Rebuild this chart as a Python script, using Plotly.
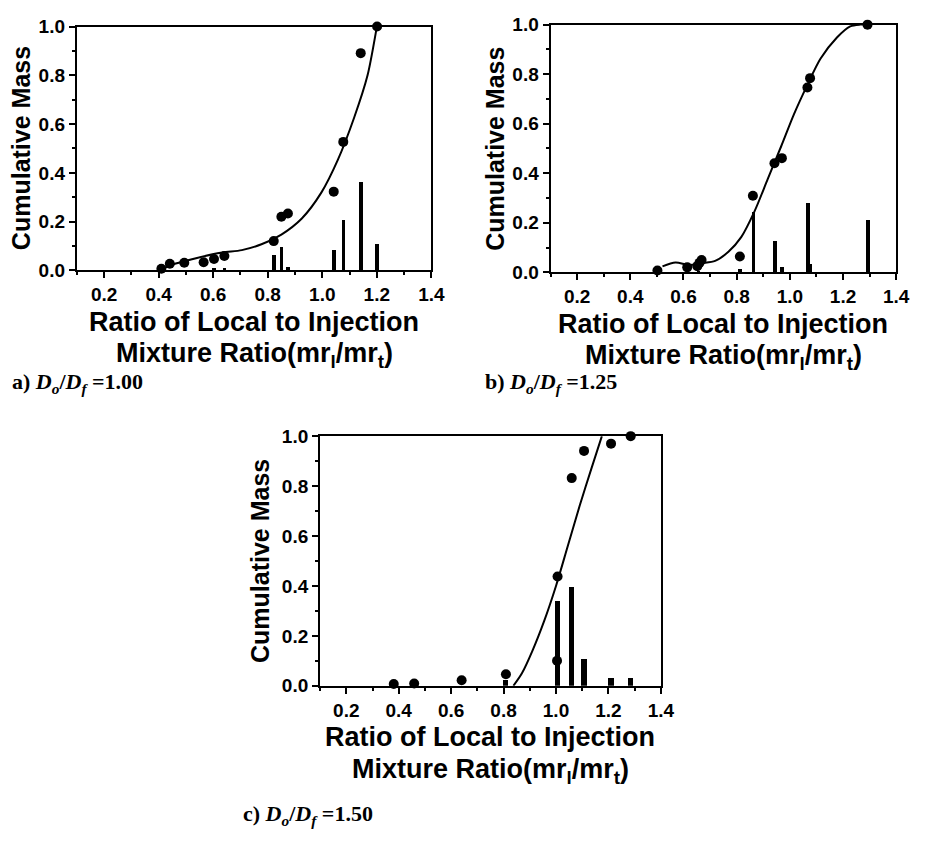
import plotly.graph_objects as go

# ---------------- Panel a: Do/Df = 1.00 ----------------
a_pts_x = [0.41, 0.441, 0.494, 0.565, 0.603, 0.641, 0.822, 0.850, 0.874, 1.042, 1.077, 1.141, 1.201]
a_pts_y = [0.007, 0.027, 0.031, 0.033, 0.047, 0.059, 0.12, 0.22, 0.233, 0.323, 0.527, 0.891, 1.0]
a_bar_x = [0.603, 0.641, 0.822, 0.850, 0.874, 1.042, 1.077, 1.141, 1.201]
a_bar_y = [0.013, 0.012, 0.064, 0.099, 0.017, 0.085, 0.207, 0.364, 0.108]
a_fit_x = [0.407, 0.44, 0.537, 0.633, 0.705, 0.777, 0.85, 0.925, 0.997, 1.057, 1.117, 1.166, 1.196, 1.2]
a_fit_y = [0.0, 0.02, 0.05, 0.073, 0.083, 0.107, 0.147, 0.213, 0.32, 0.453, 0.627, 0.8, 0.973, 1.0]

# ---------------- Panel b: Do/Df = 1.25 ----------------
b_pts_x = [0.502, 0.614, 0.652, 0.66, 0.668, 0.812, 0.861, 0.942, 0.970, 1.066, 1.076, 1.292]
b_pts_y = [0.007, 0.02, 0.025, 0.038, 0.05, 0.064, 0.309, 0.44, 0.461, 0.746, 0.784, 1.0]
b_bar_x = [0.655, 0.812, 0.861, 0.942, 0.970, 1.066, 1.076, 1.292]
b_bar_y = [0.008, 0.016, 0.244, 0.128, 0.021, 0.28, 0.037, 0.214]
b_fit_x = [0.521, 0.57, 0.62, 0.669, 0.719, 0.769, 0.817, 0.867, 0.917, 0.967, 1.016, 1.066, 1.115, 1.177, 1.227, 1.264, 1.292]
b_fit_y = [0.024, 0.04, 0.03, 0.037, 0.046, 0.083, 0.142, 0.246, 0.377, 0.508, 0.64, 0.757, 0.862, 0.948, 0.993, 1.0, 1.0]

# ---------------- Panel c: Do/Df = 1.50 ----------------
c_pts_x = [0.381, 0.459, 0.64, 0.809, 1.004, 1.006, 1.06, 1.107, 1.21, 1.285]
c_pts_y = [0.007, 0.009, 0.022, 0.046, 0.1, 0.4375, 0.832, 0.941, 0.97, 1.0]
c_bar_x = [0.809, 1.006, 1.06, 1.107, 1.21, 1.285]
c_bar_y = [0.022, 0.339, 0.395, 0.108, 0.029, 0.029]
c_fit_x = [0.8375, 0.87, 0.91, 0.955, 1.0, 1.045, 1.09, 1.135, 1.175]
c_fit_y = [0.0, 0.05, 0.14, 0.26, 0.4, 0.56, 0.72, 0.87, 1.0]

x_ticks = [0.2, 0.4, 0.6, 0.8, 1.0, 1.2, 1.4]
x_tick_text = ["0.2", "0.4", "0.6", "0.8", "1.0", "1.2", "1.4"]
y_ticks = [0.0, 0.2, 0.4, 0.6, 0.8, 1.0]
y_tick_text = ["0.0", "0.2", "0.4", "0.6", "0.8", "1.0"]

W, H = 925, 846
SANS = "Liberation Sans, Arial, Helvetica, sans-serif"
SERIF = "Liberation Serif, Times New Roman, serif"

# panel pixel boxes: (left, right, top, bottom)
boxes = {
    "a": (78, 438, 17, 267),
    "b": (559, 910, 15, 269),
    "c": (325, 671, 437, 693),
}

fig = go.Figure()

panels = [
    ("a", "x", "y", a_pts_x, a_pts_y, a_bar_x, a_bar_y, a_fit_x, a_fit_y, 0.014),
    ("b", "x2", "y2", b_pts_x, b_pts_y, b_bar_x, b_bar_y, b_fit_x, b_fit_y, 0.014),
    ("c", "x3", "y3", c_pts_x, c_pts_y, c_bar_x, c_bar_y, c_fit_x, c_fit_y, 0.02),
]

for key, xa, ya, px, py, bx, by, fx, fy, bw in panels:
    fig.add_trace(go.Bar(x=bx, y=by, width=bw, marker=dict(color="black", line=dict(width=0)),
                         xaxis=xa, yaxis=ya, showlegend=False))
    fig.add_trace(go.Scatter(x=fx, y=fy, mode="lines", line=dict(color="black", width=2, shape="spline", smoothing=0.8),
                             xaxis=xa, yaxis=ya, showlegend=False, cliponaxis=True))
    fig.add_trace(go.Scatter(x=px, y=py, mode="markers", marker=dict(color="black", size=10),
                             xaxis=xa, yaxis=ya, showlegend=False, cliponaxis=False))

axis_common = dict(
    showgrid=False, zeroline=False, showline=True, linecolor="black", linewidth=2,
    mirror=True, ticks="outside", ticklen=6, tickwidth=2, tickcolor="black",
    tickfont=dict(family=SANS, size=19, color="black", weight="bold"),
)

layout = dict(
    width=W, height=H, margin=dict(l=0, r=0, t=0, b=0),
    plot_bgcolor="white", paper_bgcolor="white", bargap=0, showlegend=False,
)

for i, key in enumerate(["a", "b", "c"]):
    l, r, t, b = boxes[key]
    sx = "" if i == 0 else str(i + 1)
    layout["xaxis" + sx] = dict(
        axis_common, domain=[l / W, r / W], range=[0.1, 1.4], anchor="y" + sx,
        tickvals=x_ticks, ticktext=x_tick_text,
        minor=dict(tickvals=[0.1, 0.3, 0.5, 0.7, 0.9, 1.1, 1.3], ticklen=3, tickwidth=2, ticks="outside", tickcolor="black"),
    )
    layout["yaxis" + sx] = dict(
        axis_common, domain=[1 - b / H, 1 - t / H], range=[0, 1.0], anchor="x" + sx,
        tickvals=y_ticks, ticktext=y_tick_text,
        minor=dict(tickvals=[0.1, 0.3, 0.5, 0.7, 0.9], ticklen=3, tickwidth=2, ticks="outside", tickcolor="black"),
    )

fig.update_layout(**layout)

# titles as annotations (paper pixel positions)
ytitle_font = dict(family=SANS, size=25, color="black", weight="bold")
xtitle_font = dict(family=SANS, size=27, color="black", weight="bold")
ytitle_x = {"a": 22, "b": 503, "c": 264}
for key in ["a", "b", "c"]:
    l, r, t, b = boxes[key]
    cx = (l + r) / 2
    fig.add_annotation(text="Cumulative Mass", x=ytitle_x[key] / W, y=1 - ((t + b) / 2) / H,
                       xref="paper", yref="paper", showarrow=False, textangle=-90,
                       font=ytitle_font, xanchor="center", yanchor="middle")
    fig.add_annotation(text="Ratio of Local to Injection", x=cx / W, y=1 - (b + 53) / H,
                       xref="paper", yref="paper", showarrow=False, font=xtitle_font,
                       xanchor="center", yanchor="middle")
    fig.add_annotation(text="Mixture Ratio(mr<sub>l</sub>/mr<sub>t</sub>)", x=cx / W, y=1 - (b + 87) / H,
                       xref="paper", yref="paper", showarrow=False, font=xtitle_font,
                       xanchor="center", yanchor="middle")

cap_font = dict(family=SERIF, size=22, color="black", weight="bold")
captions = [
    ("a) <i>D<sub>o</sub></i>/<i>D<sub>f</sub></i> =1.00", 10, 383),
    ("b) <i>D<sub>o</sub></i>/<i>D<sub>f</sub></i> =1.25", 490, 383),
    ("c) <i>D<sub>o</sub></i>/<i>D<sub>f</sub></i> =1.50", 245, 826),
]
for txt, x, y in captions:
    fig.add_annotation(text=txt, x=x / W, y=1 - y / H, xref="paper", yref="paper",
                       showarrow=False, font=cap_font, xanchor="left", yanchor="middle")

css_fix = (
    "var s=document.createElement('style');"
    "s.textContent='html,body{margin:0!important;padding:0!important;overflow:hidden!important;"
    "width:925px;height:846px;} .plotly-graph-div{display:block;}';"
    "document.head.appendChild(s);"
)
fig.write_html("out.html", config={"displayModeBar": False}, post_script=css_fix)
